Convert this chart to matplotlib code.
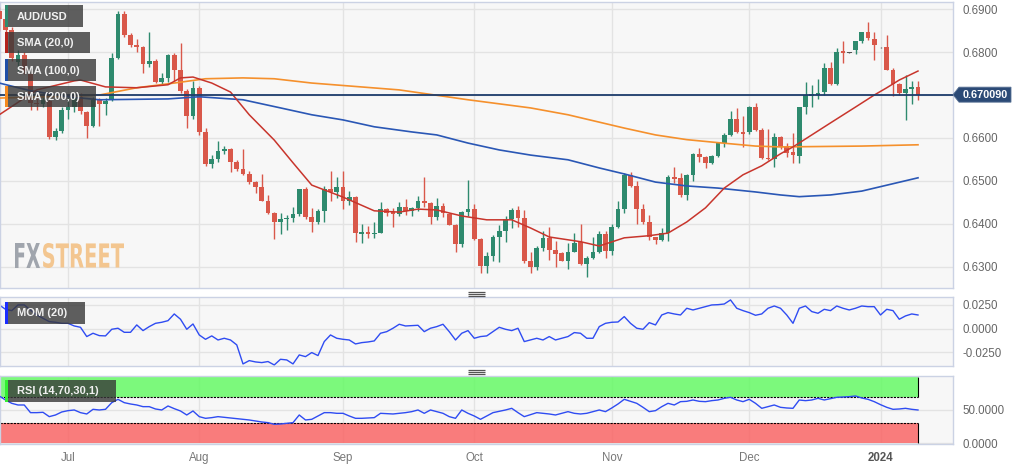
""" AUD/USD daily candles with SMA 20/100/200, MOM(20) and RSI(14) panels. """

import numpy as np
import pandas as pd
import matplotlib
matplotlib.use('Agg')
import matplotlib.pyplot as plt
from matplotlib.patches import Rectangle, Polygon, PathPatch
from matplotlib.textpath import TextPath
from matplotlib.font_manager import FontProperties
from matplotlib.transforms import Affine2D

plt.rcParams['font.family'] = ['Liberation Sans', 'DejaVu Sans']

# ---- data -------------------------------------------------------------
dates = pd.bdate_range('2023-06-16', periods=148)

opens = [0.6897, 0.6878, 0.6852, 0.6777, 0.6793, 0.6750, 0.6682, 0.6679, 0.6686, 0.6603,
         0.6617, 0.6666, 0.6672, 0.6695, 0.6660, 0.6627, 0.6690, 0.6680, 0.6688, 0.6787,
         0.6889, 0.6840, 0.6817, 0.6812, 0.6773, 0.6780, 0.6731, 0.6740, 0.6793, 0.6758,
         0.6710, 0.6650, 0.6717, 0.6614, 0.6539, 0.6551, 0.6570, 0.6574, 0.6545, 0.6528,
         0.6516, 0.6497, 0.6486, 0.6454, 0.6425, 0.6404, 0.6410, 0.6413, 0.6422, 0.6480,
         0.6416, 0.6405, 0.6430, 0.6481, 0.6475, 0.6486, 0.6454, 0.6462, 0.6377, 0.6380,
         0.6376, 0.6378, 0.6434, 0.6428, 0.6423, 0.6439, 0.6430, 0.6437, 0.6453, 0.6448,
         0.6416, 0.6442, 0.6423, 0.6398, 0.6353, 0.6427, 0.6434, 0.6364, 0.6302, 0.6325,
         0.6369, 0.6383, 0.6411, 0.6432, 0.6414, 0.6314, 0.6298, 0.6344, 0.6367, 0.6338,
         0.6332, 0.6314, 0.6335, 0.6357, 0.6307, 0.6321, 0.6333, 0.6376, 0.6337, 0.6393,
         0.6434, 0.6513, 0.6488, 0.6435, 0.6405, 0.6368, 0.6363, 0.6378, 0.6510, 0.6507,
         0.6466, 0.6513, 0.6562, 0.6556, 0.6542, 0.6558, 0.6588, 0.6606, 0.6645, 0.6614,
         0.6614, 0.6672, 0.6619, 0.6554, 0.6552, 0.6603, 0.6580, 0.6568, 0.6559, 0.6672,
         0.6697, 0.6700, 0.6706, 0.6762, 0.6726, 0.6803, 0.6799, 0.6805, 0.6825, 0.6846,
         0.6831, 0.6811, 0.6811, 0.6759, 0.6726, 0.6704, 0.6714, 0.6718]
highs = [0.6905, 0.6888, 0.6858, 0.6805, 0.6800, 0.6752, 0.6700, 0.6705, 0.6690, 0.6622,
         0.6672, 0.6695, 0.6702, 0.6705, 0.6662, 0.6695, 0.6693, 0.6693, 0.6798, 0.6895,
         0.6895, 0.6845, 0.6830, 0.6815, 0.6847, 0.6783, 0.6752, 0.6795, 0.6797, 0.6822,
         0.6715, 0.6733, 0.6720, 0.6622, 0.6560, 0.6593, 0.6582, 0.6576, 0.6548, 0.6575,
         0.6522, 0.6500, 0.6517, 0.6467, 0.6427, 0.6425, 0.6420, 0.6438, 0.6482, 0.6485,
         0.6437, 0.6435, 0.6488, 0.6523, 0.6508, 0.6523, 0.6476, 0.6465, 0.6400, 0.6395,
         0.6404, 0.6450, 0.6437, 0.6436, 0.6450, 0.6458, 0.6440, 0.6465, 0.6510, 0.6450,
         0.6460, 0.6448, 0.6425, 0.6400, 0.6430, 0.6502, 0.6446, 0.6366, 0.6334, 0.6374,
         0.6397, 0.6417, 0.6437, 0.6441, 0.6432, 0.6335, 0.6348, 0.6383, 0.6393, 0.6359,
         0.6334, 0.6355, 0.6379, 0.6400, 0.6325, 0.6368, 0.6383, 0.6383, 0.6400, 0.6454,
         0.6518, 0.6520, 0.6500, 0.6446, 0.6420, 0.6370, 0.6390, 0.6513, 0.6532, 0.6519,
         0.6515, 0.6565, 0.6577, 0.6557, 0.6560, 0.6590, 0.6612, 0.6663, 0.6670, 0.6651,
         0.6675, 0.6682, 0.6623, 0.6621, 0.6612, 0.6605, 0.6588, 0.6612, 0.6673, 0.6730,
         0.6723, 0.6737, 0.6774, 0.6778, 0.6810, 0.6825, 0.6801, 0.6826, 0.6848, 0.6871,
         0.6846, 0.6812, 0.6840, 0.6762, 0.6727, 0.6747, 0.6733, 0.6733]
lows = [0.6850, 0.6845, 0.6780, 0.6755, 0.6750, 0.6665, 0.6665, 0.6672, 0.6598, 0.6595,
        0.6612, 0.6645, 0.6660, 0.6655, 0.6600, 0.6625, 0.6628, 0.6653, 0.6685, 0.6785,
        0.6836, 0.6812, 0.6800, 0.6752, 0.6765, 0.6728, 0.6725, 0.6730, 0.6732, 0.6705,
        0.6623, 0.6645, 0.6606, 0.6535, 0.6530, 0.6545, 0.6562, 0.6520, 0.6524, 0.6514,
        0.6493, 0.6472, 0.6453, 0.6423, 0.6365, 0.6377, 0.6385, 0.6405, 0.6418, 0.6410,
        0.6380, 0.6400, 0.6405, 0.6452, 0.6461, 0.6435, 0.6443, 0.6358, 0.6356, 0.6366,
        0.6366, 0.6378, 0.6418, 0.6393, 0.6418, 0.6421, 0.6418, 0.6430, 0.6440, 0.6400,
        0.6408, 0.6415, 0.6396, 0.6333, 0.6345, 0.6418, 0.6362, 0.6286, 0.6286, 0.6313,
        0.6310, 0.6357, 0.6390, 0.6392, 0.6308, 0.6286, 0.6292, 0.6337, 0.6315, 0.6300,
        0.6312, 0.6294, 0.6333, 0.6303, 0.6276, 0.6318, 0.6331, 0.6320, 0.6327, 0.6391,
        0.6425, 0.6486, 0.6400, 0.6400, 0.6362, 0.6352, 0.6360, 0.6360, 0.6495, 0.6463,
        0.6455, 0.6500, 0.6543, 0.6530, 0.6540, 0.6555, 0.6578, 0.6605, 0.6612, 0.6580,
        0.6610, 0.6615, 0.6550, 0.6548, 0.6533, 0.6575, 0.6555, 0.6541, 0.6541, 0.6656,
        0.6672, 0.6690, 0.6700, 0.6724, 0.6724, 0.6775, 0.6797, 0.6795, 0.6822, 0.6829,
        0.6782, 0.6810, 0.6759, 0.6698, 0.6699, 0.6642, 0.6678, 0.6689]
closes = [0.6878, 0.6852, 0.6787, 0.6793, 0.6756, 0.6682, 0.6679, 0.6688, 0.6603, 0.6617,
          0.6666, 0.6673, 0.6697, 0.6662, 0.6627, 0.6689, 0.6680, 0.6686, 0.6787, 0.6889,
          0.6840, 0.6817, 0.6812, 0.6772, 0.6780, 0.6731, 0.6740, 0.6793, 0.6758, 0.6710,
          0.6650, 0.6717, 0.6614, 0.6539, 0.6551, 0.6570, 0.6574, 0.6545, 0.6528, 0.6516,
          0.6497, 0.6486, 0.6454, 0.6425, 0.6404, 0.6411, 0.6413, 0.6422, 0.6480, 0.6416,
          0.6405, 0.6430, 0.6481, 0.6475, 0.6486, 0.6454, 0.6462, 0.6378, 0.6381, 0.6376,
          0.6379, 0.6434, 0.6425, 0.6423, 0.6439, 0.6430, 0.6437, 0.6453, 0.6448, 0.6416,
          0.6442, 0.6426, 0.6398, 0.6353, 0.6427, 0.6434, 0.6364, 0.6302, 0.6325, 0.6369,
          0.6383, 0.6411, 0.6432, 0.6414, 0.6314, 0.6298, 0.6344, 0.6367, 0.6338, 0.6330,
          0.6314, 0.6335, 0.6355, 0.6307, 0.6321, 0.6333, 0.6376, 0.6337, 0.6393, 0.6434,
          0.6513, 0.6488, 0.6435, 0.6405, 0.6370, 0.6362, 0.6378, 0.6510, 0.6505, 0.6466,
          0.6513, 0.6562, 0.6556, 0.6542, 0.6558, 0.6588, 0.6606, 0.6645, 0.6614, 0.6609,
          0.6672, 0.6619, 0.6554, 0.6550, 0.6603, 0.6580, 0.6565, 0.6561, 0.6672, 0.6700,
          0.6703, 0.6704, 0.6762, 0.6726, 0.6801, 0.6799, 0.6799, 0.6825, 0.6846, 0.6833,
          0.6817, 0.6811, 0.6759, 0.6726, 0.6704, 0.6715, 0.6719, 0.6701]

# moving averages at a handful of candles
sma20_idx = [0, 6, 12, 13, 17, 22, 27, 29, 31, 34, 37, 40, 44, 47, 50, 55, 60, 64, 67, 70,
             74, 78, 82, 85, 88, 93, 96, 100, 104, 107, 110, 113, 116, 119, 122, 125, 127,
             130, 133, 137, 140, 142, 144, 147]
sma20_val = [0.6654, 0.6712, 0.6733, 0.6735, 0.6719, 0.6717, 0.6724, 0.6740, 0.6742, 0.6728,
             0.6707, 0.6654, 0.6595, 0.6542, 0.6490, 0.6462, 0.6430, 0.6427, 0.6434, 0.6432,
             0.6418, 0.6409, 0.6409, 0.6390, 0.6369, 0.6358, 0.6348, 0.6367, 0.6372, 0.6378,
             0.6404, 0.6437, 0.6483, 0.6514, 0.6535, 0.6563, 0.6579, 0.6607, 0.6635, 0.6672,
             0.6700, 0.6717, 0.6735, 0.6756]
sma100_idx = [0, 5, 11, 16, 27, 32, 39, 45, 50, 55, 60, 66, 70, 75, 80, 85, 91, 96, 100,
              105, 110, 115, 121, 125, 128, 133, 138, 147]
sma100_val = [0.6728, 0.6710, 0.6696, 0.6689, 0.6691, 0.6696, 0.6689, 0.6670, 0.6654, 0.6642,
              0.6626, 0.6614, 0.6607, 0.6588, 0.6572, 0.6560, 0.6549, 0.6530, 0.6516, 0.6497,
              0.6488, 0.6483, 0.6474, 0.6467, 0.6463, 0.6467, 0.6476, 0.6507]
sma200_idx = [0, 8, 16, 22, 28, 33, 39, 44, 50, 64, 75, 85, 91, 100, 105, 110, 115, 121,
              125, 138, 147]
sma200_val = [0.6693, 0.6696, 0.6700, 0.6717, 0.6728, 0.6738, 0.6740, 0.6738, 0.6728, 0.6712,
              0.6689, 0.6670, 0.6654, 0.6623, 0.6607, 0.6596, 0.6589, 0.6581, 0.6579, 0.6581,
              0.6584]

mom20 = [0.0250, 0.0204, 0.0190, 0.0250, 0.0250, 0.0197, 0.0144, 0.0109, 0.0074, 0.0067,
         0.0056, 0.0056, 0.0028, 0.0014, -0.0084, -0.0049, -0.0074, -0.0077, -0.0007, 0.0004,
         -0.0039, -0.0039, 0.0039, -0.0021, 0.0021, 0.0056, 0.0067, 0.0084, 0.0155, 0.0099,
         -0.0007, 0.0049, -0.0067, -0.0113, -0.0077, -0.0120, -0.0102, -0.0120, -0.0172, -0.0373,
         -0.0338, -0.0352, -0.0359, -0.0348, -0.0384, -0.0324, -0.0331, -0.0373, -0.0278, -0.0296,
         -0.0253, -0.0285, -0.0137, -0.0067, -0.0102, -0.0113, -0.0120, -0.0162, -0.0148, -0.0141,
         -0.0130, -0.0049, -0.0032, 0.0004, 0.0046, 0.0028, 0.0032, 0.0035, -0.0032, 0.0004,
         0.0021, 0.0046, -0.0032, -0.0120, -0.0049, -0.0021, -0.0102, -0.0084, -0.0077, -0.0032,
         0.0014, -0.0007, -0.0021, 0.0004, -0.0137, -0.0120, -0.0102, -0.0120, -0.0084, -0.0120,
         -0.0102, -0.0084, -0.0042, -0.0049, -0.0102, -0.0102, 0.0021, 0.0056, 0.0067, 0.0070,
         0.0127, 0.0056, 0.0004, -0.0007, 0.0063, 0.0039, 0.0144, 0.0169, 0.0155, 0.0144,
         0.0215, 0.0197, 0.0215, 0.0232, 0.0250, 0.0253, 0.0260, 0.0303, 0.0215, 0.0190,
         0.0169, 0.0141, 0.0155, 0.0215, 0.0239, 0.0215, 0.0144, 0.0056, 0.0215, 0.0239,
         0.0180, 0.0162, 0.0204, 0.0190, 0.0239, 0.0215, 0.0197, 0.0215, 0.0239, 0.0232,
         0.0232, 0.0144, 0.0204, 0.0190, 0.0099, 0.0134, 0.0155, 0.0144]

rsi14 = [71, 65, 60, 57.5, 57.5, 46, 46, 46.5, 40, 42.5,
         47, 49, 50, 46, 44, 51, 50, 51, 61, 66,
         61, 59, 57.5, 55, 55, 51.5, 50, 56, 52, 48.5,
         42.5, 48.5, 40, 37.5, 38.5, 40, 39, 38, 37, 36,
         35, 33.5, 32, 31, 28.5, 29, 30, 31, 42.5, 35,
         36, 41, 46, 46, 45, 45, 41, 37.5, 37.5, 38,
         38.5, 45, 44.5, 44, 45, 46, 47.5, 50, 45, 50,
         47.5, 45, 40, 37.5, 50, 45, 41, 36, 41, 46,
         48, 50, 52.5, 46, 40, 43, 46, 45, 44, 42.5,
         45, 47.5, 45, 44, 45, 47.5, 50, 47.5, 53, 59,
         66, 63, 60, 54, 47.5, 49, 55, 60, 57.5, 62.5,
         63, 65, 63, 62.5, 64, 65, 67.5, 69, 65, 62.5,
         66, 60, 52.5, 55, 57.5, 54, 53, 52.5, 65, 64,
         65, 67.5, 65, 67, 69, 69.5, 70, 71, 68, 66,
         62.5, 58, 54, 51, 51.5, 52.5, 51, 50]

last_price = 0.67009
price_ticks = [0.63, 0.64, 0.65, 0.66, 0.67, 0.68, 0.69]
mom_ticks = [-0.025, 0.0, 0.025]
rsi_ticks = [0, 50]
rsi_upper, rsi_lower = 70, 30

# ---- layout -------------------------------------------------------------
W, H = 1025, 470
GREEN, RED = '#2e8a6e', '#d9584a'
BG, GRID, EDGE = '#f7f7f7', '#e3e3e3', '#cbd2e4'

fig = plt.figure(figsize=(W / 100, H / 100), dpi=100, facecolor='white')


def px_axes(x0, y0, x1, y1):
    return fig.add_axes([x0 / W, 1 - y1 / H, (x1 - x0) / W, (y1 - y0) / H])


ax = px_axes(0, 2, 953, 288)
ax_mom = px_axes(0, 297, 953, 366)
ax_rsi = px_axes(0, 376, 953, 444)

x = np.arange(len(closes))
xlim = (0.12, 152.6)
month_pos = [i for i in range(1, len(dates)) if dates[i].month != dates[i - 1].month]
month_lab = [dates[i].strftime('%Y') if dates[i].month == 1 else dates[i].strftime('%b')
             for i in month_pos]

for a in (ax, ax_mom, ax_rsi):
    a.set_facecolor(BG)
    a.set_xlim(*xlim)
    a.set_axisbelow(True)
    a.grid(True, color=GRID, lw=1)
    a.set_xticks(month_pos)
    a.yaxis.tick_right()
    a.tick_params(axis='y', length=0, pad=6.5, labelsize=8.3, labelcolor='#666666')
    a.tick_params(axis='x', length=0, labelbottom=False)
    for s in a.spines.values():
        s.set_color(EDGE)
        s.set_linewidth(1)

# ---- price panel ----------------------------------------------------------
o, h, l, c = map(np.array, (opens, highs, lows, closes))
cols = np.where(c > o, GREEN, np.where(c < o, RED, '#555555'))
ax.vlines(x, l, h, colors=cols, lw=1, zorder=3)
ax.bar(x, np.maximum(np.abs(c - o), 0.00005), 0.78, bottom=np.minimum(o, c),
       color=cols, edgecolor='none', zorder=4)

ax.plot(sma200_idx, sma200_val, color='#f5902c', lw=1.2, zorder=5)
ax.plot(sma100_idx, sma100_val, color='#2a57b5', lw=1.2, zorder=5)
ax.plot(sma20_idx, sma20_val, color='#c8352c', lw=1.1, zorder=5)
ax.axhline(last_price, color='#1d3c6b', lw=1.3, zorder=5)

ax.set_ylim(0.6250, 0.6917)
ax.set_yticks(price_ticks)
# the level nearest the last price is covered by the price tag
ax.set_yticklabels(['' if abs(t - last_price) < 0.002 else f'{t:.4f}' for t in price_ticks])

# ---- momentum panel -----------------------------------------------------
ax_mom.plot(x, mom20, color='#2f4cf2', lw=1)
ax_mom.set_ylim(-0.0395, 0.0334)
ax_mom.set_yticks(mom_ticks)
ax_mom.set_yticklabels([f'{t:.4f}' for t in mom_ticks])

# ---- RSI panel ------------------------------------------------------------
xb = [xlim[0], x[-1]]
ax_rsi.fill_between(xb, rsi_upper, 100, color='#66fa66', alpha=0.85, lw=0, zorder=1)
ax_rsi.fill_between(xb, 0, rsi_lower, color='#fa6666', alpha=0.85, lw=0, zorder=1)
ax_rsi.hlines([rsi_upper, rsi_lower], xb[0], xb[1], colors='black', lw=0.8,
              linestyles=(0, (2, 1)), zorder=2)
ax_rsi.vlines(x[-1], rsi_upper, 100, colors='black', lw=0.8, zorder=2)
ax_rsi.vlines(x[-1], 0, rsi_lower, colors='black', lw=0.8, zorder=2)
ax_rsi.plot(x, rsi14, color='#2f4cf2', lw=1, zorder=3)
ax_rsi.set_ylim(-1.05, 101)
ax_rsi.set_yticks(rsi_ticks)
ax_rsi.set_yticklabels([f'{t:.4f}' for t in rsi_ticks])
ax_rsi.tick_params(axis='x', labelbottom=True, pad=6, labelsize=8.3, labelcolor='#777777')
ax_rsi.set_xticklabels(month_lab)
for t in ax_rsi.get_xticklabels():
    if t.get_text().isdigit():
        t.set_fontweight('bold')
        t.set_color('#555555')

# ---- overlay: legends, price tag, watermark, pane handles ------------------
ov = fig.add_axes([0, 0, 1, 1])
ov.set_xlim(0, W)
ov.set_ylim(H, 0)
ov.axis('off')


def legend_tag(x0, y0, x1, y1, bar, text):
    ov.add_patch(Rectangle((x0, y0), x1 - x0, y1 - y0, facecolor=(0.22, 0.22, 0.22, 0.8), lw=0))
    ov.add_patch(Rectangle((x0, y0), 3, y1 - y0, facecolor=bar, lw=0))
    ov.text(x0 + 12, (y0 + y1) / 2 + 0.5, text, color='#f0f0f0', fontsize=8,
            fontweight='bold', ha='left', va='center')


legend_tag(5, 5, 83, 27, GREEN, 'AUD/USD')
legend_tag(5, 32, 90, 53, '#b3221c', 'SMA (20,0)')
legend_tag(5, 59, 96, 81, '#1f4fa8', 'SMA (100,0)')
legend_tag(5, 86, 96, 107, '#f5891f', 'SMA (200,0)')
legend_tag(5, 302, 85, 324, '#1a2cff', 'MOM (20)')
legend_tag(5, 380, 116, 402, '#33ee33', 'RSI (14,70,30,1)')

# price tag attached to the last close
fig.canvas.draw()
py = H - ax.transData.transform((0, last_price))[1]
ov.add_patch(Polygon([(953, py), (959, py - 7.5), (1011, py - 7.5), (1011, py + 7.5),
                      (959, py + 7.5)], closed=True, facecolor='#2b4a76', edgecolor='#5a7396',
                     lw=0.6))
ov.text(985, py + 0.4, f'{last_price:.6f}', color='white', fontsize=7.8, fontweight='bold',
        ha='center', va='center')


def stamp(s, x0, y0, x1, y1, color):
    tp = TextPath((0, 0), s, size=10, prop=FontProperties(family='DejaVu Sans', weight='bold'))
    bb = tp.get_extents()
    tr = Affine2D().translate(-bb.x0, -bb.y0).scale((x1 - x0) / bb.width,
                                                    -(y1 - y0) / bb.height).translate(x0, y1)
    ov.add_patch(PathPatch(tr.transform_path(tp), facecolor=color, lw=0))


stamp('FX', 15, 243, 40, 268, '#a0a5ad')
stamp('STREET', 43, 243, 124, 268, '#f3c690')

for yh in (292, 369.5):
    ov.hlines([yh, yh + 2, yh + 4], 468, 485, colors='#555555', lw=0.9)

fig.savefig('out.png', dpi=100, facecolor='white')
